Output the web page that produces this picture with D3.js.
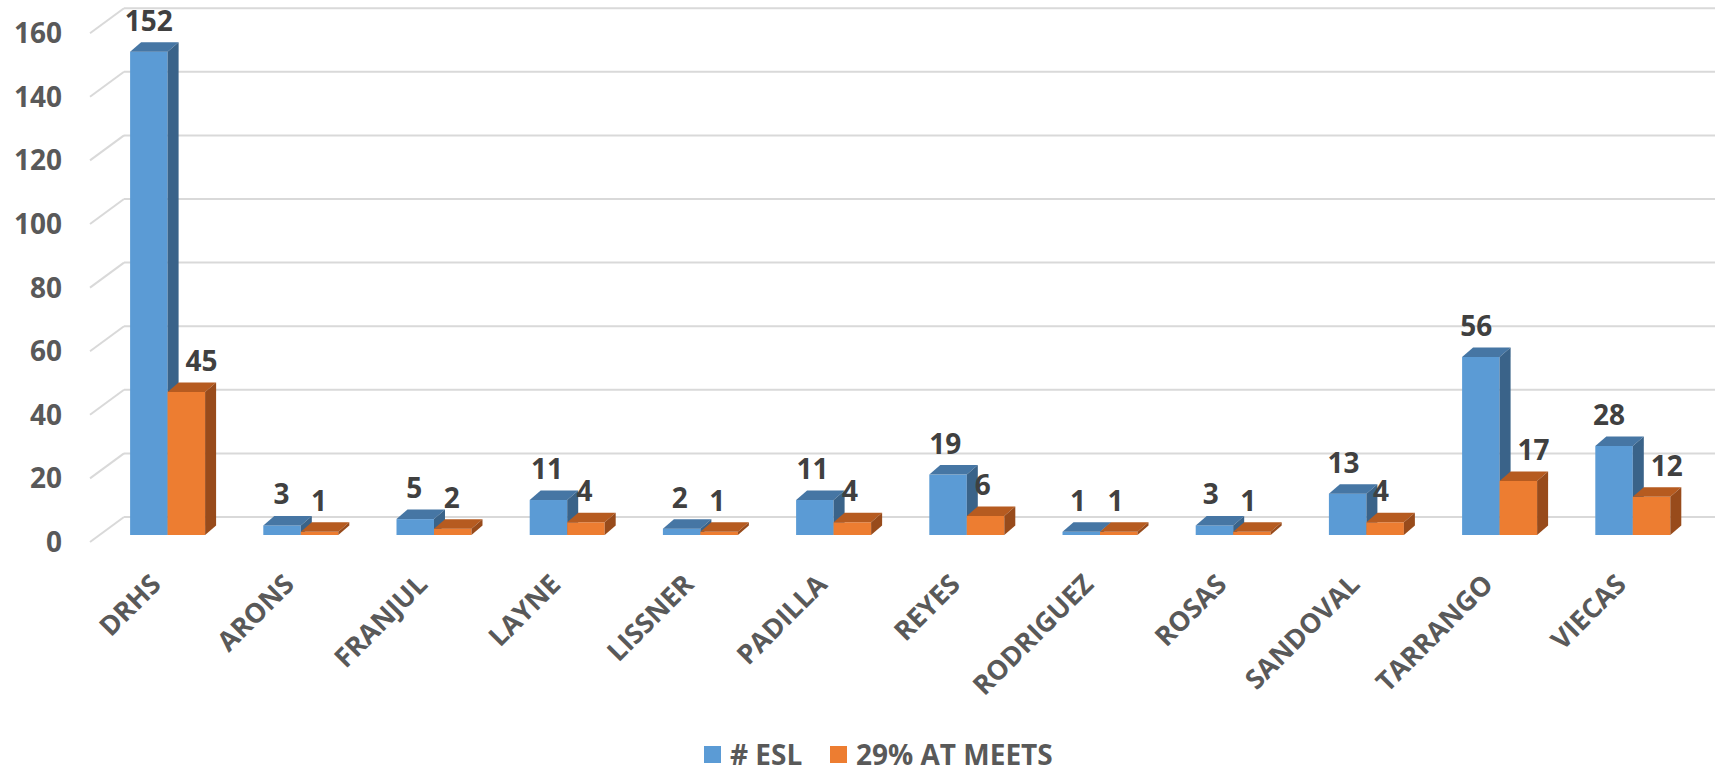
<!DOCTYPE html>
<html>
<head>
<meta charset="utf-8">
<script src="https://cdn.jsdelivr.net/npm/d3@7/dist/d3.min.js"></script>
<style>
    body { margin: 0; background: #fff; }
    svg { display: block; font-family: "Open Sans", "DejaVu Sans", sans-serif; font-weight: bold; }
</style>
</head>
<body>
<svg width="1715" height="773"></svg>
<script>
// chart data
const categories = ["DRHS", "ARONS", "FRANJUL", "LAYNE", "LISSNER", "PADILLA", "REYES",
    "RODRIGUEZ", "ROSAS", "SANDOVAL", "TARRANGO", "VIECAS"];
const seriesNames = ["# ESL", "29% AT MEETS"];
const eslValues = [152, 3, 5, 11, 2, 11, 19, 1, 3, 13, 56, 28];
const meetsValues = [45, 1, 2, 4, 1, 4, 6, 1, 1, 4, 17, 12];
const yTicks = [0, 20, 40, 60, 80, 100, 120, 140, 160];

var svg = d3.select("svg"),
    width = +svg.attr("width"),
    height = +svg.attr("height");

// face colours: front, top, side
var palette = [
    {front: "#5b9bd5", top: "#4676a4", side: "#3a6389"},
    {front: "#ed7d31", top: "#b65b20", side: "#984b1b"}
];

// depth of the 3d bars and of the floor
var dx = 11, dy = -9.5;
var backShift = -18, frontShift = 7;

var y = d3.scaleLinear()
    .domain([0, 160])
    .range([535, 26.2]);

var x = d3.scaleBand()
    .domain(categories)
    .range([101, 101 + 12 * 133.2])
    .paddingInner(0.437)
    .paddingOuter(0.2185);

var xs = d3.scaleBand()
    .domain(seriesNames)
    .range([0, x.bandwidth()]);

//gridlines on the back wall plus the short diagonal on the side wall
var grid = svg.append("g").attr("class", "grid");
grid.selectAll("line.back")
    .data(yTicks)
    .enter().append("line")
    .attr("class", "back")
    .attr("x1", 124).attr("x2", width)
    .attr("y1", function (d) { return y(d) + backShift; })
    .attr("y2", function (d) { return y(d) + backShift; })
    .attr("stroke", "#d9d9d9")
    .attr("stroke-width", 2);
grid.selectAll("line.side")
    .data(yTicks)
    .enter().append("line")
    .attr("class", "side")
    .attr("x1", 90).attr("x2", 124)
    .attr("y1", function (d) { return y(d) + frontShift; })
    .attr("y2", function (d) { return y(d) + backShift; })
    .attr("stroke", "#d9d9d9")
    .attr("stroke-width", 2);

// y axis labels
svg.append("g")
    .selectAll("text")
    .data(yTicks)
    .enter().append("text")
    .attr("x", 62)
    .attr("y", function (d) { return y(d) + frontShift; })
    .attr("dy", "0.36em")
    .attr("text-anchor", "end")
    .attr("fill", "#595959")
    .style("font-size", "28px")
    .text(function (d) { return d; });

// one record per bar
var bars = [];
categories.forEach(function (c, i) {
    [eslValues, meetsValues].forEach(function (vals, s) {
        bars.push({cat: c, i: i, s: s, value: vals[i], other: s ? eslValues[i] : null});
    });
});

function barX(d) { return x(d.cat) + xs(seriesNames[d.s]); }

var barG = svg.append("g")
    .attr("class", "bars")
    .selectAll("g")
    .data(bars)
    .enter().append("g");

barG.append("rect")
    .attr("x", barX)
    .attr("y", function (d) { return y(d.value); })
    .attr("width", xs.bandwidth())
    .attr("height", function (d) { return y(0) - y(d.value); })
    .attr("fill", function (d) { return palette[d.s].front; });

barG.append("polygon")
    .attr("points", function (d) {
        var x0 = barX(d), x1 = x0 + xs.bandwidth(), yt = y(d.value);
        return [[x0, yt], [x0 + dx, yt + dy], [x1 + dx, yt + dy], [x1, yt]].join(" ");
    })
    .attr("fill", function (d) { return palette[d.s].top; });

barG.append("polygon")
    .attr("points", function (d) {
        var x1 = barX(d) + xs.bandwidth(), yt = y(d.value), yb = y(0);
        return [[x1, yt], [x1 + dx, yt + dy], [x1 + dx, yb + dy], [x1, yb]].join(" ");
    })
    .attr("fill", function (d) { return palette[d.s].side; });

// value labels (small drift to the left towards the right end, like the 3d perspective)
var labels = svg.append("g")
    .selectAll("text")
    .data(bars)
    .enter().append("text")
    .attr("x", function (d) { return barX(d) + xs.bandwidth() / 2 - 5 * d.i / 11; })
    .attr("y", function (d) { return y(d.value) - 21; })
    .attr("text-anchor", "middle")
    .attr("fill", "#404040")
    .style("font-size", "28px")
    .text(function (d) { return d.value; });

// push wide orange labels off the taller blue bar next to them
labels.each(function (d) {
    if (d.s !== 1 || d.other <= d.value) return;
    var w = this.getComputedTextLength();
    var sideRight = barX(d) + dx;
    var cx = +d3.select(this).attr("x");
    if (cx - w / 2 < sideRight - 6) {
        d3.select(this).attr("x", sideRight + 7 + w / 2);
    }
});

// rotated category labels
svg.append("g")
    .selectAll("text")
    .data(categories)
    .enter().append("text")
    .attr("transform", function (d) {
        return "translate(" + (x(d) + x.bandwidth() / 2 - 5) + ",586) rotate(-45)";
    })
    .attr("text-anchor", "end")
    .attr("fill", "#595959")
    .style("font-size", "27px")
    .text(function (d) { return d; });

// legend
var legendPos = [704, 830];
var legend = svg.append("g")
    .selectAll("g")
    .data(seriesNames)
    .enter().append("g")
    .attr("transform", function (d, i) { return "translate(" + legendPos[i] + ",746)"; });
legend.append("rect")
    .attr("width", 17).attr("height", 17)
    .attr("fill", function (d, i) { return palette[i].front; });
legend.append("text")
    .attr("x", 26)
    .attr("y", 8.5)
    .attr("dy", "0.36em")
    .attr("fill", "#595959")
    .style("font-size", "28px")
    .text(function (d) { return d; });
</script>
</body>
</html>
